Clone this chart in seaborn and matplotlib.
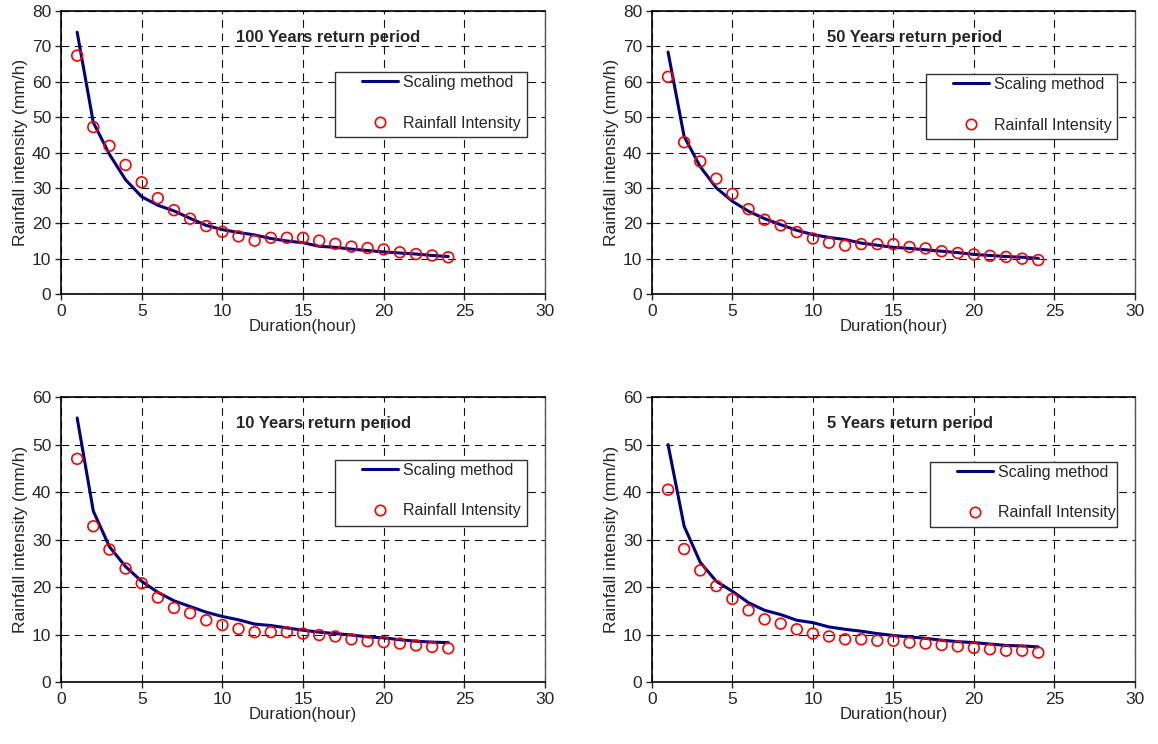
import seaborn as sns
import matplotlib.pyplot as plt
from matplotlib.lines import Line2D
from matplotlib.patches import Rectangle

# Durations (hours)
duration = list(range(1, 25))

# Observed rainfall intensity (mm/h)
obs_100 = [67.4, 47.2, 41.9, 36.5, 31.6, 27.1, 23.7, 21.3, 19.2, 17.6, 16.3, 15.1,
           15.9, 15.9, 15.9, 15.1, 14.2, 13.4, 13.0, 12.6, 11.8, 11.3, 10.9, 10.4]
obs_50 = [61.4, 42.9, 37.5, 32.6, 28.3, 24.0, 21.0, 19.4, 17.5, 15.7, 14.5, 13.7,
          14.1, 14.1, 14.1, 13.3, 12.9, 12.1, 11.6, 11.2, 10.8, 10.5, 10.0, 9.6]
obs_10 = [47.0, 32.8, 27.9, 23.9, 20.8, 17.8, 15.6, 14.5, 13.0, 12.0, 11.2, 10.5,
          10.5, 10.5, 10.2, 9.9, 9.6, 9.0, 8.6, 8.4, 8.1, 7.7, 7.4, 7.1]
obs_5 = [40.5, 28.0, 23.5, 20.2, 17.5, 15.1, 13.2, 12.3, 11.1, 10.2, 9.6, 9.0,
         9.0, 8.7, 8.7, 8.3, 8.1, 7.8, 7.5, 7.2, 6.9, 6.6, 6.6, 6.2]

# Scaling method curve (mm/h)
scl_100 = [74.0, 48.5, 39.5, 32.3, 27.5, 25.1, 23.5, 21.4, 19.4, 18.2, 17.4, 16.7,
           15.7, 15.0, 14.5, 13.5, 13.2, 12.7, 12.3, 11.9, 11.6, 11.3, 10.9, 10.6]
scl_50 = [68.4, 44.5, 36.0, 30.0, 26.2, 23.4, 21.3, 19.6, 18.0, 16.8, 16.0, 15.4,
          14.4, 13.8, 13.2, 12.9, 12.5, 12.1, 11.7, 11.2, 10.9, 10.6, 10.4, 10.1]
scl_10 = [55.6, 36.0, 28.5, 24.3, 21.2, 18.9, 17.1, 15.9, 14.7, 13.8, 13.1, 12.2,
          11.9, 11.4, 10.9, 10.5, 10.2, 9.9, 9.5, 9.3, 8.9, 8.6, 8.4, 8.3]
scl_5 = [50.0, 32.8, 25.2, 21.2, 19.1, 16.7, 15.1, 14.2, 13.0, 12.5, 11.6, 11.1,
         10.7, 10.2, 9.8, 9.5, 9.2, 8.8, 8.5, 8.3, 8.0, 7.7, 7.6, 7.4]

titles = ["100 Years return period", "50 Years return period",
          "10 Years return period", "5 Years return period"]
observed = [obs_100, obs_50, obs_10, obs_5]
scaling = [scl_100, scl_50, scl_10, scl_5]
ymax = [80, 80, 60, 60]

sns.set_style("white")
plt.rcParams['font.family'] = ['Liberation Sans', 'DejaVu Sans']

fig = plt.figure(figsize=(11.58, 7.44), dpi=100)

# axes rectangles [left, bottom, width, height] in figure fraction
rects = [[0.0527, 0.6048, 0.418, 0.3804], [0.563, 0.6048, 0.417, 0.3804],
         [0.0527, 0.0833, 0.418, 0.383], [0.563, 0.0833, 0.417, 0.383]]
# legend box per panel (x0, y0, w, h) in axes fraction
leg_boxes = [(0.566, 0.555, 0.397, 0.229), (0.567, 0.548, 0.396, 0.229),
             (0.566, 0.547, 0.397, 0.232), (0.576, 0.544, 0.387, 0.228)]

line_color = "#000080"

for i in range(4):
    ax = fig.add_axes(rects[i])

    sns.lineplot(x=duration, y=scaling[i], ax=ax, color=line_color,
                 linewidth=2.2, zorder=4)
    sns.scatterplot(x=duration, y=observed[i], ax=ax, s=60, facecolor="none",
                    edgecolor="red", linewidth=1.2, zorder=5)

    ax.set_xlim(0, 30)
    ax.set_ylim(0, ymax[i])
    ax.set_xticks(range(0, 31, 5))
    ax.set_yticks(range(0, ymax[i] + 1, 10))
    ax.tick_params(axis="both", direction="out", length=4, width=1,
                   labelsize=12.5, pad=3, left=True, bottom=True)

    ax.grid(True, color="#111111", linestyle=(0, (7, 5)), linewidth=0.8)
    ax.set_axisbelow(True)

    for side in ["left", "bottom", "top"]:
        ax.spines[side].set_color("black")
        ax.spines[side].set_linewidth(1.2)
    ax.spines["right"].set_color("#555555")
    ax.spines["right"].set_linewidth(1.0)

    ax.set_xlabel("Duration(hour)", fontsize=12, labelpad=0)
    ax.set_ylabel("Rainfall intensity (mm/h)", fontsize=12.5, labelpad=3)

    ax.text(0.362, 0.908, titles[i], transform=ax.transAxes, ha="left",
            va="center", fontsize=12, fontweight="bold")

    # legend frame
    x0, y0, w, h = leg_boxes[i]
    ax.add_patch(Rectangle((x0, y0), w, h, transform=ax.transAxes,
                           facecolor="white", edgecolor="#333333",
                           linewidth=1.0, zorder=3))
    handles = [Line2D([], [], color=line_color, linewidth=2.2),
               Line2D([], [], linestyle="none", marker="o", markersize=7.5,
                      markerfacecolor="none", markeredgecolor="red",
                      markeredgewidth=1.2)]
    leg = ax.legend(handles, ["Scaling method", "Rainfall Intensity"],
                    loc="upper left",
                    bbox_to_anchor=(x0 + 0.056, y0 + h - 0.01),
                    frameon=False, fontsize=11.5, handlelength=2.25,
                    handletextpad=0.3, labelspacing=1.6, borderpad=0,
                    borderaxespad=0)
    leg.set_zorder(6)

fig.savefig("out.png", dpi=100)
